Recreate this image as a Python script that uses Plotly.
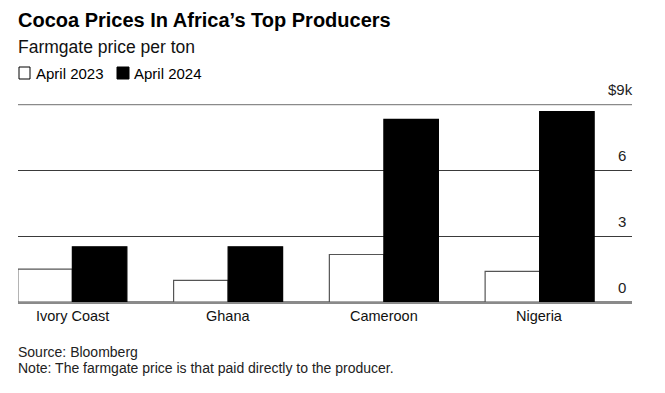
import plotly.graph_objects as go

countries = ["Ivory Coast", "Ghana", "Cameroon", "Nigeria"]
april_2023 = [1.49, 0.98, 2.16, 1.39]   # $k per ton
april_2024 = [2.51, 2.51, 8.30, 8.66]
grid_vals = [0, 3, 6, 9]
grid_labels = ["0", "3", "6", "$9k"]
series_names = ["April 2023", "April 2024"]
series_fill = ["#ffffff", "#000000"]
series_edge = ["#555555", "#000000"]

xpos = list(range(len(countries)))

W, H = 665, 393
OFF = 8  # page offset of the plot div
# desired plot box in screenshot pixels
PX_L, PX_R, PX_T, PX_B = 18, 632, 104, 302
ML = PX_L - OFF
MT = PX_T - OFF
MR = W - (PX_R - OFF)
MB = H - (PX_B - OFF)
PW = W - ML - MR
PH = H - MT - MB
FONT = "Liberation Sans, Arial, Helvetica, sans-serif"


def px2paper(px, py):
    return (px - OFF - ML) / PW, (H - MB - (py - OFF)) / PH


fig = go.Figure()
for name, vals, fc, ec in zip(series_names, [april_2023, april_2024], series_fill, series_edge):
    fig.add_trace(go.Bar(
        x=xpos, y=vals, name=name,
        marker=dict(color=fc, line=dict(color=ec, width=1.2)),
        showlegend=False,
    ))

# top grid line (grey, thicker)
fig.add_shape(type="line", xref="paper", yref="y", x0=0, x1=1,
              y0=grid_vals[-1], y1=grid_vals[-1],
              line=dict(color="#8a8a8a", width=2.5), layer="below")

# axis value labels sitting above each gridline
num_left = px2paper(616, 0)[0]
for v, lab in zip(grid_vals, grid_labels):
    if lab.startswith("$"):
        fig.add_annotation(x=px2paper(635, 0)[0], xref="paper", y=v, yref="y", text=lab,
                           showarrow=False, xanchor="right", yanchor="bottom",
                           yshift=4,
                           font=dict(family=FONT, size=15, color="#222"))
    else:
        fig.add_annotation(x=num_left, xref="paper", y=v, yref="y", text=lab,
                           showarrow=False, xanchor="left", yanchor="bottom",
                           yshift=4,
                           font=dict(family=FONT, size=15, color="#222"))

# category labels
for xp, c in zip(xpos, countries):
    fig.add_annotation(x=xp, xref="x", y=px2paper(0, 316)[1], yref="paper",
                       text=c, showarrow=False, xanchor="center", yanchor="middle",
                       font=dict(family=FONT, size=14.5, color="#111"))


def paper_text(text, px_x, px_y, size, color="#000", bold=False):
    x, y = px2paper(px_x, px_y)
    fig.add_annotation(
        x=x, xref="paper", y=y, yref="paper",
        text=f"<b>{text}</b>" if bold else text,
        showarrow=False, xanchor="left", yanchor="middle",
        font=dict(family=FONT, size=size, color=color),
    )


paper_text("Cocoa Prices In Africa’s Top Producers", 16, 20, 20, "#000", bold=True)
paper_text("Farmgate price per ton", 16, 47, 17.5, "#111")
paper_text("Source: Bloomberg", 16, 352, 14, "#222")
paper_text("Note: The farmgate price is that paid directly to the producer.", 16, 368, 14, "#222")

# manual legend
leg_sq = [(19, 30), (117, 129)]
leg_txt_x = [34, 132]
for (x0, x1), tx, name, fc, ec in zip(leg_sq, leg_txt_x, series_names, series_fill, series_edge):
    a0, b0 = px2paper(x0, 67)
    a1, b1 = px2paper(x1, 79)
    fig.add_shape(type="rect", xref="paper", yref="paper", x0=a0, x1=a1, y0=b1, y1=b0,
                  fillcolor=fc, line=dict(color="#000000", width=1))
    paper_text(name, tx, 73, 15, "#000")

fig.update_layout(
    width=W, height=H,
    margin=dict(l=ML, r=MR, t=MT, b=MB),
    paper_bgcolor="#ffffff", plot_bgcolor="#ffffff",
    barmode="group", bargap=0.30, bargroupgap=0,
    font=dict(family=FONT, color="#000"),
    showlegend=False,
    xaxis=dict(
        range=[-0.349, 3.593], tickvals=xpos, showticklabels=False,
        showgrid=False, zeroline=False, showline=False, ticks="",
        fixedrange=True,
    ),
    yaxis=dict(
        range=[0, 9], tickvals=[3, 6], showticklabels=False,
        showgrid=True, gridcolor="#3a3a3a", gridwidth=1,
        zeroline=True, zerolinecolor="#8a8a8a", zerolinewidth=2.5,
        showline=False, ticks="", fixedrange=True,
    ),
)

fig.write_html("out.html")
